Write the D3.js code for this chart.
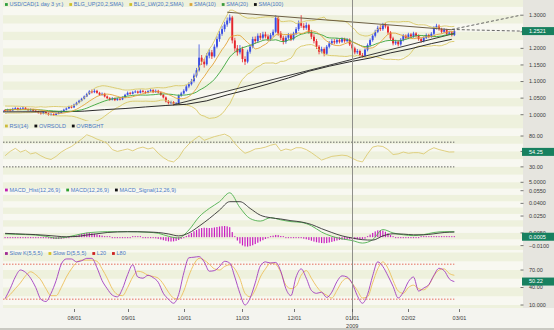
<!DOCTYPE html>
<html>
<head>
<meta charset="utf-8">
<title>USD/CAD daily</title>
<script src="https://d3js.org/d3.v7.min.js"></script>
<style>
  html, body { margin: 0; padding: 0; background: #ffffff; }
  svg { display: block; font-family: "Liberation Sans", Arial, sans-serif; }
</style>
</head>
<body>
<svg id="chart" width="554" height="330"></svg>
<script>
// ---------- sessions ----------
const firstSession = "2008-05-29";   // first bar held in the arrays (warm-up for the averages)
const firstShown   = "2008-06-25";   // first bar inside the window
const calendarEnd  = "2009-04-10";

// ---------- daily USD/CAD bars (open = previous close) ----------
const closes = [
  1.006,1.011,1.018,1.022,1.016,1.021,1.026,1.020,1.013,1.017,1.009,1.004,1.010,1.016,1.022,1.019,1.013,1.009,1.014,
  1.012,1.015,1.013,1.018,1.020,1.016,1.019,1.021,1.017,1.014,
  1.016,1.012,1.010,1.006,1.003,1.008,1.004,1.000,1.002,0.999,
  1.003,1.006,1.010,1.015,1.019,1.024,1.022,1.030,1.036,1.042,
  1.048,1.055,1.062,1.070,1.068,1.072,1.066,1.060,1.063,1.055,
  1.050,1.046,1.049,1.044,1.048,1.046,1.052,1.060,1.066,1.063,
  1.068,1.070,1.066,1.072,1.069,1.066,1.071,1.074,1.068,1.072,
  1.067,1.060,1.052,1.040,1.035,1.038,1.032,1.034,1.058,1.064,
  1.072,1.085,1.092,1.101,1.118,1.134,1.172,1.160,1.152,1.178,
  1.188,1.176,1.205,1.228,1.244,1.258,1.272,1.284,1.293,1.224,
  1.200,1.188,1.198,1.168,1.160,1.190,1.205,1.228,1.222,1.238,
  1.232,1.242,1.236,1.228,1.240,1.250,1.292,1.245,1.232,1.220,
  1.232,1.240,1.228,1.245,1.258,1.276,1.268,1.262,1.270,1.250,
  1.235,1.222,1.205,1.190,1.198,1.184,1.205,1.215,1.222,1.218,
  1.225,1.220,1.228,1.222,1.226,1.212,1.200,1.188,1.192,1.180,
  1.178,1.196,1.210,1.225,1.238,1.250,1.262,1.258,1.270,1.266,
  1.248,1.230,1.215,1.220,1.212,1.226,1.238,1.232,1.242,1.236,
  1.245,1.238,1.228,1.222,1.232,1.240,1.236,1.244,1.262,1.268,
  1.258,1.250,1.256,1.244,1.248,1.240,1.2521
];
const highs = [
  1.010,1.014,1.021,1.026,1.024,1.024,1.029,1.028,1.022,1.020,1.018,1.011,1.013,1.019,1.025,1.025,1.021,1.015,1.017,
  1.017,1.018,1.018,1.021,1.024,1.022,1.022,1.025,1.023,1.019,
  1.019,1.018,1.014,1.012,1.008,1.011,1.010,1.006,1.005,1.004,
  1.006,1.009,1.013,1.018,1.022,1.027,1.028,1.033,1.039,1.045,
  1.051,1.058,1.066,1.074,1.076,1.077,1.075,1.069,1.067,1.066,
  1.058,1.053,1.053,1.052,1.051,1.051,1.055,1.063,1.070,1.069,
  1.072,1.074,1.073,1.076,1.075,1.072,1.074,1.078,1.077,1.076,
  1.075,1.070,1.062,1.055,1.044,1.042,1.041,1.038,1.061,1.069,
  1.077,1.090,1.098,1.108,1.124,1.141,1.212,1.180,1.168,1.186,
  1.197,1.195,1.212,1.236,1.252,1.268,1.280,1.293,1.302,1.298,
  1.232,1.210,1.210,1.205,1.176,1.196,1.212,1.235,1.236,1.245,
  1.246,1.250,1.250,1.242,1.246,1.257,1.300,1.296,1.252,1.238,
  1.238,1.246,1.245,1.250,1.264,1.284,1.300,1.276,1.278,1.274,
  1.256,1.242,1.228,1.210,1.205,1.203,1.210,1.222,1.228,1.228,
  1.231,1.230,1.233,1.232,1.231,1.230,1.217,1.205,1.198,1.196,
  1.186,1.200,1.215,1.230,1.243,1.256,1.268,1.270,1.277,1.276,
  1.270,1.252,1.235,1.226,1.225,1.231,1.243,1.242,1.247,1.246,
  1.250,1.249,1.242,1.232,1.236,1.245,1.244,1.249,1.267,1.274,
  1.272,1.262,1.261,1.259,1.253,1.252,1.256
];
const lows = [
  1.002,1.004,1.009,1.016,1.013,1.014,1.019,1.017,1.010,1.011,1.007,1.001,1.002,1.008,1.014,1.016,1.010,1.006,1.007,
  1.009,1.010,1.010,1.011,1.016,1.013,1.014,1.017,1.015,1.011,
  1.012,1.010,1.007,1.003,1.000,1.001,1.001,0.997,0.997,0.996,
  0.997,1.001,1.004,1.008,1.013,1.017,1.019,1.020,1.028,1.034,
  1.040,1.046,1.053,1.060,1.064,1.065,1.063,1.057,1.057,1.052,
  1.047,1.042,1.043,1.041,1.042,1.043,1.044,1.050,1.058,1.060,
  1.061,1.065,1.063,1.064,1.066,1.063,1.064,1.068,1.065,1.066,
  1.064,1.057,1.049,1.037,1.031,1.032,1.028,1.029,1.032,1.054,
  1.061,1.069,1.080,1.088,1.097,1.112,1.130,1.150,1.142,1.148,
  1.170,1.168,1.172,1.200,1.220,1.238,1.250,1.265,1.276,1.215,
  1.190,1.178,1.182,1.158,1.150,1.155,1.184,1.200,1.214,1.216,
  1.225,1.226,1.230,1.222,1.222,1.235,1.246,1.238,1.225,1.212,
  1.214,1.226,1.222,1.224,1.240,1.252,1.262,1.255,1.256,1.244,
  1.228,1.215,1.198,1.182,1.185,1.176,1.180,1.200,1.210,1.212,
  1.213,1.215,1.216,1.217,1.218,1.207,1.194,1.182,1.183,1.175,
  1.172,1.174,1.191,1.205,1.220,1.233,1.246,1.252,1.253,1.260,
  1.242,1.224,1.209,1.210,1.206,1.208,1.221,1.227,1.228,1.231,
  1.232,1.233,1.223,1.217,1.218,1.228,1.231,1.232,1.240,1.257,
  1.253,1.245,1.246,1.240,1.240,1.236,1.237
];

// 100-day average, one value every 8 sessions starting the session before the window
const sma100 = [1.0085,1.0087,1.0089,1.0087,1.0108,1.0153,1.0186,1.0234,1.0278,1.0313,1.0418,1.0597,
  1.0752,1.0926,1.1108,1.1311,1.1463,1.1595,1.1709,1.1864,1.1990,1.2143,1.2273];

// RSI(14), every 2 sessions from the first bar of the window
const rsi14 = [48,55,60,54,57,51,53,48,44,42,
  47,54,59,63,69,75,82,79,75,72,
  68,58,55,57,59,56,60,62,59,61,
  52,45,40,38,45,58,67,74,80,73,
  76,79,81,83,79,68,59,52,55,59,
  60,62,65,67,56,59,57,61,61,58,
  53,47,41,44,47,48,49,48,44,40,
  38,51,62,64,63,58,50,51,54,52,
  53,53,51,57,61,58,56,54,54.25];

// MACD(12,26,9) and its signal, every 4 sessions
const macdLine = [0.0038,0.0034,0.0030,0.0025,0.0010,-0.0012,0.0000,0.0026,0.0050,0.0060,
  0.0065,0.0064,0.0065,0.0063,0.0058,0.0046,0.0010,-0.0010,0.0085,0.0240,
  0.0340,0.0420,0.0525,0.0350,0.0220,0.0190,0.0230,0.0205,0.0184,0.0175,
  0.0135,0.0060,0.0010,-0.0020,-0.0040,-0.0070,-0.0030,0.0090,0.0050,0.0028,
  0.0018,0.0030,0.0055,0.0065,0.0065];
const macdSignal = [0.0045,0.0040,0.0035,0.0030,0.0022,0.0012,0.0004,0.0008,0.0025,0.0040,
  0.0055,0.0062,0.0064,0.0064,0.0061,0.0055,0.0038,0.0015,0.0050,0.0130,
  0.0220,0.0320,0.0420,0.0420,0.0340,0.0260,0.0230,0.0215,0.0195,0.0180,
  0.0150,0.0100,0.0055,0.0015,-0.0010,-0.0030,-0.0035,0.0015,0.0040,0.0036,
  0.0028,0.0028,0.0040,0.0055,0.0060];
// MACD histogram, every session
const macdHist = [
  -0.0006,-0.0006,-0.0006,-0.0006,-0.0006,-0.0006,-0.0006,-0.0006,-0.0006,-0.0006,-0.0006,-0.0006,-0.0006,
  -0.0008,-0.0010,-0.0012,-0.0013,-0.0015,-0.0018,-0.0020,
  -0.0022,-0.0022,-0.0020,-0.0016,-0.0010,-0.0004,0.0004,0.0012,
  0.0020,0.0030,0.0040,0.0048,0.0052,0.0050,0.0046,0.0040,0.0032,0.0025,0.0018,0.0012,0.0006,0.0002,
  -0.0004,-0.0006,-0.0008,-0.0008,-0.0007,-0.0005,-0.0003,-0.0001,0.0000,
  0.0001,0.0001,0.0000,-0.0002,-0.0004,-0.0006,-0.0008,-0.0010,
  -0.0014,-0.0020,-0.0028,-0.0036,-0.0044,-0.0050,-0.0052,-0.0050,-0.0044,-0.0034,-0.0020,-0.0004,
  0.0014,0.0030,0.0050,0.0070,0.0085,0.0100,0.0108,0.0112,0.0110,0.0108,0.0110,0.0115,0.0120,0.0126,0.0130,0.0132,0.0128,0.0118,
  0.0060,0.0010,-0.0040,-0.0075,-0.0098,-0.0110,-0.0112,-0.0106,-0.0096,-0.0082,-0.0066,-0.0050,-0.0036,
  -0.0022,-0.0010,0.0002,
  0.0018,0.0026,0.0024,0.0014,
  0.0004,-0.0004,-0.0006,-0.0005,-0.0004,-0.0005,-0.0008,-0.0012,
  -0.0018,-0.0025,-0.0033,-0.0042,-0.0052,-0.0060,-0.0066,
  -0.0070,-0.0072,-0.0070,-0.0064,-0.0056,-0.0048,-0.0040,
  -0.0034,-0.0030,-0.0028,-0.0026,-0.0025,-0.0024,-0.0024,-0.0025,-0.0026,-0.0024,-0.0018,
  0.0010,0.0030,0.0050,0.0068,0.0080,0.0084,0.0078,0.0064,0.0045,
  0.0025,0.0008,-0.0004,-0.0010,-0.0012,-0.0012,-0.0011,-0.0010,-0.0009,-0.0008,-0.0006,
  -0.0003,0.0000,0.0003,0.0006,0.0009,0.0011,0.0012,0.0011,0.0010,
  0.0009,0.0008,0.0007,0.0006,0.0005,0.0005
];

// Slow stochastic (5,5,5), every 2 sessions
const slowK = [21,38,58,70,66,56,40,20,16,30,
  52,80,89,89,84,86,90,90,74,52,
  38,27,24,38,62,79,58,56,61,57,
  49,30,20,13,28,65,91,92,93,84,
  68,69,76,85,82,58,30,10,22,48,
  77,84,82,83,68,38,26,58,72,56,
  35,30,32,23,32,50,60,58,47,26,
  13,28,60,84,76,60,42,22,32,50,
  58,34,39,45,61,73,69,55,50.22];
const slowD = [20,28,38,48,60,67,62,53,38,26,
  26,40,58,72,83,87,87,87,85,72,
  56,38,28,26,40,58,68,66,61,59,
  56,46,32,22,20,34,60,80,90,87,
  80,72,70,76,79,72,55,30,24,36,
  58,72,82,80,66,44,38,42,61,69,
  56,42,32,27,22,35,50,56,47,35,
  22,24,48,72,84,73,52,34,30,40,
  44,38,36,44,60,70,72,64,61];

// drawn trend lines: [session, price]
const supportLine    = [["2008-09-25", 1.030], ["2009-02-26", 1.245]];
const resistanceLine = [["2008-10-24", 1.309], ["2009-02-25", 1.256]];
const projections = [
  [["2009-02-25", 1.257], ["2009-04-03", 1.300]],
  [["2009-02-25", 1.257], ["2009-04-03", 1.2521]]
];

// axis ticks
const monthTicks = ["2008-08-01","2008-09-01","2008-10-01","2008-11-03","2008-12-01","2009-01-01","2009-02-02","2009-03-01"];
const yearMarks  = [["2009-01-01", "2009"]];
const priceTicks = [1.0, 1.05, 1.10, 1.15, 1.20, 1.25, 1.30];
const rsiTicks   = [80, 55, 30];
const rsiFloor   = 5;
const rsiLevels  = [30, 70];
const macdTicks  = [0.055, 0.040, 0.025, 0.005, -0.010];
const stochTicks = [70, 40];
const stochFloor = 10;
const stochLevels = [20, 80];

// ---------- helpers ----------
const parse = d3.timeParse("%Y-%m-%d");
const sessions = d3.timeDay.range(parse(firstSession), parse(calendarEnd))
  .filter(d => d.getDay() > 0 && d.getDay() < 6);
const barOf = s => { const t = +parse(s); return sessions.findIndex(d => +d >= t); };
const k0 = barOf(firstShown);
const lastBar = closes.length - 1;
const sampled = (vals, start, step) => vals.map((v, j) => ({ k: start + j * step, v }));

const svg = d3.select("#chart");
const W = 554, H = 330;
const plotL = 3, plotR = 523;

const x = d3.scaleLinear().domain([k0 - 0.82, k0 + 202.9]).range([plotL, plotR]);

const panels = {
  main:  { top: 0,   bottom: 121, y: d3.scaleLinear().domain([1.0, 1.3]).range([114.7, 15.2]) },
  rsi:   { top: 121, bottom: 186, y: d3.scaleLinear().domain([5, 80]).range([182.3, 136.0]) },
  macd:  { top: 186, bottom: 250, y: d3.scaleLinear().domain([-0.01, 0.055]).range([245.6, 190.7]) },
  stoch: { top: 250, bottom: 308, y: d3.scaleLinear().domain([10, 80]).range([305.0, 264.2]) }
};

// ---------- backgrounds ----------
svg.append("rect").attr("width", W).attr("height", H).attr("fill", "#f4f4ef");
svg.append("rect").attr("x", plotL).attr("y", 0).attr("width", plotR - plotL).attr("height", 308).attr("fill", "#f8f8f1");
svg.append("rect").attr("x", plotR).attr("y", 0).attr("width", W - plotR).attr("height", 308).attr("fill", "#e6e5df");

const stripe = "#eef1dd";
function stripes(p, edges) {
  for (let j = 0; j + 1 < edges.length; j += 2) {
    const a = p.y(edges[j]), b = p.y(edges[j + 1]);
    const y0 = Math.max(p.top, Math.min(a, b)), y1 = Math.min(p.bottom, Math.max(a, b));
    if (y1 > y0) svg.append("rect").attr("x", plotL).attr("y", y0).attr("width", plotR - plotL)
      .attr("height", y1 - y0).attr("fill", stripe);
  }
}
stripes(panels.main,  d3.range(0.975, 1.40, 0.025));
stripes(panels.rsi,   d3.range(-7.5, 130, 12.5));
stripes(panels.macd,  d3.range(-0.0175, 0.08, 0.0075));
stripes(panels.stoch, d3.range(-5, 130, 15));

// clip paths per panel
const defs = svg.append("defs");
Object.entries(panels).forEach(([name, p]) => {
  defs.append("clipPath").attr("id", "clip-" + name)
    .append("rect").attr("x", plotL).attr("y", p.top).attr("width", plotR - plotL).attr("height", p.bottom - p.top);
  p.g = svg.append("g").attr("clip-path", `url(#clip-${name})`);
});

// vertical marker at the year change
yearMarks.forEach(([d]) => {
  const xv = Math.round(x(barOf(d))) + 0.5;
  svg.append("line").attr("x1", xv).attr("x2", xv).attr("y1", 0).attr("y2", 320)
    .attr("stroke", "#8f8f8a").attr("stroke-width", 1);
});

// ---------- main panel ----------
const pm = panels.main;
const yP = pm.y;
const avg = (k, n) => d3.mean(closes.slice(k - n + 1, k + 1));
const bands = d3.range(19, closes.length).map(k => {
  const w = closes.slice(k - 19, k + 1);
  const m = d3.mean(w);
  const sd = Math.sqrt(d3.mean(w, v => (v - m) * (v - m)));
  return { k, up: m + 2 * sd, lo: m - 2 * sd, m20: m, m10: avg(k, 10) };
});
const lineK = acc => d3.line().x(d => x(d.k)).y(acc);

// candles
closes.forEach((c, k) => {
  if (k < k0 - 1) return;
  const o = k > 0 ? closes[k - 1] : c;
  const col = c >= o ? "#3b4ee2" : "#e4262c";
  const xc = x(k);
  pm.g.append("line").attr("x1", xc).attr("x2", xc).attr("y1", yP(highs[k])).attr("y2", yP(lows[k]))
    .attr("stroke", col).attr("stroke-width", 0.8);
  const yt = yP(Math.max(o, c)), yb = yP(Math.min(o, c));
  pm.g.append("rect").attr("x", xc - 0.95).attr("y", yt).attr("width", 1.9)
    .attr("height", Math.max(0.9, yb - yt)).attr("fill", col);
});

pm.g.append("path").datum(bands).attr("d", lineK(d => yP(d.up))).attr("fill", "none").attr("stroke", "#d9c866").attr("stroke-width", 0.9);
pm.g.append("path").datum(bands).attr("d", lineK(d => yP(d.lo))).attr("fill", "none").attr("stroke", "#d9c866").attr("stroke-width", 0.9);
pm.g.append("path").datum(sampled(sma100, k0 - 1, 8)).attr("d", lineK(d => yP(d.v))).attr("fill", "none").attr("stroke", "#2a2a2a").attr("stroke-width", 1);

const seg = pts => pts.map(([d, v]) => ({ k: barOf(d), v }));
pm.g.append("path").datum(seg(supportLine)).attr("d", lineK(d => yP(d.v))).attr("fill", "none").attr("stroke", "#3a3a3a").attr("stroke-width", 1);
pm.g.append("path").datum(seg(resistanceLine)).attr("d", lineK(d => yP(d.v))).attr("fill", "none").attr("stroke", "#6d5f45").attr("stroke-width", 1);
projections.forEach(pr => pm.g.append("path").datum(seg(pr)).attr("d", lineK(d => yP(d.v)))
  .attr("fill", "none").attr("stroke", "#555").attr("stroke-width", 0.9).attr("stroke-dasharray", "3,2"));

pm.g.append("path").datum(bands).attr("d", lineK(d => yP(d.m20))).attr("fill", "none").attr("stroke", "#3aa53a").attr("stroke-width", 0.9);
pm.g.append("path").datum(bands).attr("d", lineK(d => yP(d.m10))).attr("fill", "none").attr("stroke", "#e3a43a").attr("stroke-width", 0.9);

// ---------- RSI ----------
const pr = panels.rsi;
rsiLevels.forEach(v => pr.g.append("line").attr("x1", plotL).attr("x2", x(lastBar)).attr("y1", pr.y(v)).attr("y2", pr.y(v))
  .attr("stroke", "#444").attr("stroke-width", 0.8).attr("stroke-dasharray", "1.5,1.5"));
pr.g.append("path").datum(sampled(rsi14, k0, 2)).attr("d", lineK(d => pr.y(d.v)))
  .attr("fill", "none").attr("stroke", "#dccb74").attr("stroke-width", 0.9);

// ---------- MACD ----------
const pc = panels.macd;
const histColor = "#c81fbf";
sampled(macdHist, k0, 1).forEach(d => {
  const y0 = pc.y(0), y1 = pc.y(d.v);
  const h = Math.max(1, Math.abs(y1 - y0));
  pc.g.append("rect").attr("x", x(d.k) - 0.6).attr("width", 1.2)
    .attr("y", d.v >= 0 ? y0 - h : y0).attr("height", h).attr("fill", histColor);
});
pc.g.append("path").datum(sampled(macdLine, k0, 4)).attr("d", lineK(d => pc.y(d.v)).curve(d3.curveMonotoneX))
  .attr("fill", "none").attr("stroke", "#4fb04f").attr("stroke-width", 0.9);
pc.g.append("path").datum(sampled(macdSignal, k0, 4)).attr("d", lineK(d => pc.y(d.v)).curve(d3.curveMonotoneX))
  .attr("fill", "none").attr("stroke", "#333").attr("stroke-width", 0.9);

// ---------- Stochastic ----------
const ps = panels.stoch;
stochLevels.forEach(v => ps.g.append("line").attr("x1", plotL).attr("x2", x(lastBar)).attr("y1", ps.y(v)).attr("y2", ps.y(v))
  .attr("stroke", "#e04a3a").attr("stroke-width", 0.8).attr("stroke-dasharray", "1.5,1.5"));
ps.g.append("path").datum(sampled(slowD, k0, 2)).attr("d", lineK(d => ps.y(d.v)).curve(d3.curveMonotoneX))
  .attr("fill", "none").attr("stroke", "#ecc05a").attr("stroke-width", 0.9);
ps.g.append("path").datum(sampled(slowK, k0, 2)).attr("d", lineK(d => ps.y(d.v)).curve(d3.curveMonotoneX))
  .attr("fill", "none").attr("stroke", "#a23cc0").attr("stroke-width", 0.9);

// ---------- legends ----------
const FS = 5.5;
function legend(yc, items) {
  let xx = 5;
  items.forEach(([label, color]) => {
    svg.append("rect").attr("x", xx).attr("y", yc - 1.4).attr("width", 2.8).attr("height", 2.8).attr("fill", color);
    const t = svg.append("text").attr("x", xx + 4.5).attr("y", yc).attr("dy", "0.35em")
      .attr("font-size", FS).attr("fill", "#4a78c6").text(label);
    xx += 4.5 + t.node().getComputedTextLength() + 6;
  });
}
legend(4.5, [["USD/CAD(1 day 3 yr.)", "#2e9e3e"], ["BLG_UP(20,2,SMA)", "#cdbf2a"], ["BLG_LW(20,2,SMA)", "#cdbf2a"],
             ["SMA(10)", "#d9a43a"], ["SMA(20)", "#3a9a3a"], ["SMA(100)", "#111"]]);
legend(126, [["RSI(14)", "#cdbb3a"], ["OVRSOLD", "#111"], ["OVRBGHT", "#111"]]);
legend(190, [["MACD_Hist(12,26,9)", "#c020b0"], ["MACD(12,26,9)", "#30a030"], ["MACD_Signal(12,26,9)", "#111"]]);
legend(253.5, [["Slow K(5,5,5)", "#a02894"], ["Slow D(5,5,5)", "#d8c020"], ["L20", "#cc2020"], ["L80", "#cc2020"]]);

// ---------- right axis ----------
function rightTicks(p, vals, fmt) {
  vals.forEach(v => {
    const yy = p.y(v);
    svg.append("line").attr("x1", 520.5).attr("x2", 523.5).attr("y1", yy).attr("y2", yy).attr("stroke", "#555").attr("stroke-width", 0.8);
    svg.append("text").attr("x", 529).attr("y", yy).attr("dy", "0.35em").attr("font-size", FS).attr("fill", "#3a3a3a").text(fmt(v));
  });
}
rightTicks(pm, priceTicks, d3.format(".4f"));
rightTicks(pr, rsiTicks, d3.format(".2f"));
rightTicks(pr, [rsiFloor], d3.format(".4f"));
rightTicks(pc, macdTicks, d3.format(".4f"));
rightTicks(ps, stochTicks, d3.format(".2f"));
rightTicks(ps, [stochFloor], d3.format(".3f"));

function lastValue(p, v, fmt) {
  const yy = p.y(v);
  svg.append("rect").attr("x", 522).attr("y", yy - 4).attr("width", 32).attr("height", 8).attr("fill", "#17805f");
  svg.append("text").attr("x", 529).attr("y", yy).attr("dy", "0.35em").attr("font-size", FS).attr("fill", "#ffffff").text(fmt(v));
}
lastValue(pm, closes[lastBar], d3.format(".4f"));
lastValue(pr, rsi14[rsi14.length - 1], d3.format(".2f"));
lastValue(pc, macdHist[macdHist.length - 1], d3.format(".4f"));
lastValue(ps, slowK[slowK.length - 1], d3.format(".2f"));

// ---------- time axis ----------
const fmtMD = d3.timeFormat("%m/%d");
monthTicks.forEach(d => {
  const xv = Math.round(x(barOf(d))) + 0.5;
  svg.append("line").attr("x1", xv).attr("x2", xv).attr("y1", 309).attr("y2", 312).attr("stroke", "#555").attr("stroke-width", 0.8);
  svg.append("text").attr("x", xv).attr("y", 318).attr("dy", "0.35em").attr("text-anchor", "middle")
    .attr("font-size", FS).attr("fill", "#3a3a3a").text(fmtMD(parse(d)));
});
yearMarks.forEach(([d, label]) => {
  svg.append("text").attr("x", x(barOf(d))).attr("y", 326).attr("dy", "0.35em").attr("text-anchor", "middle")
    .attr("font-size", FS).attr("fill", "#3a3a3a").text(label);
});
svg.append("rect").attr("x", 0).attr("y", 328).attr("width", W).attr("height", 2).attr("fill", "#c9c9c2");
</script>
</body>
</html>
